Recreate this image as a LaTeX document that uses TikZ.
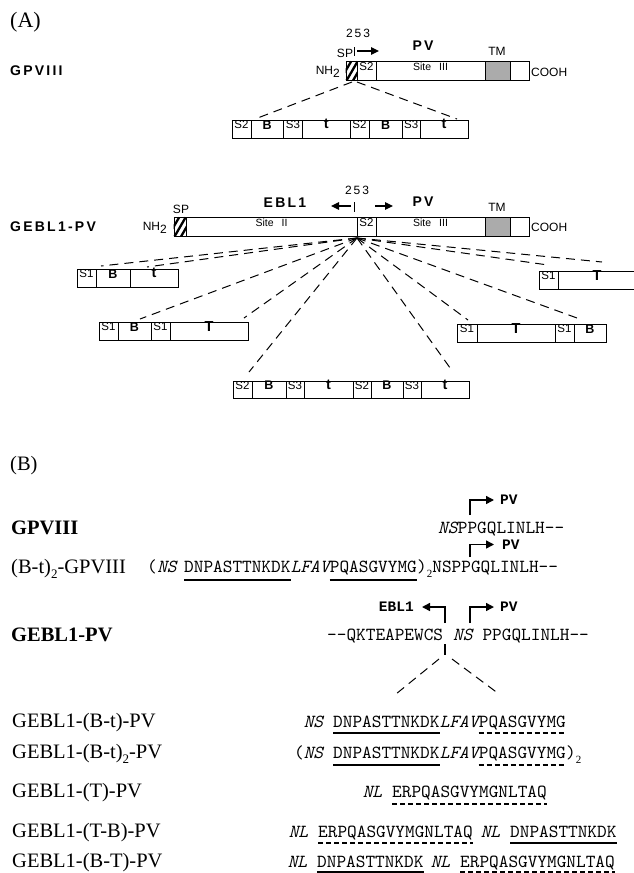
\documentclass[tikz,border=0pt]{standalone}
\usepackage{fontspec}
\setmainfont{Liberation Serif}
\setsansfont{Liberation Sans}
\setmonofont{lmmono10-regular.otf}[ItalicFont=lmmono10-italic.otf]
\newfontfamily\trackedsans{Liberation Sans}[LetterSpace=16]
\newfontfamily\labmono{Liberation Mono}
\usetikzlibrary{fit,arrows.meta}

% a rectangular cell spanning x1..x2, y1..y2
\newcommand\cellbox[7][]{\node[cell,#1,fit={(#3,#5)(#4,#6)}] (#2) {#7};}
% diagonal hatching inside a cell
\newcommand\hatchcell[1]{%
  \begin{scope}
    \clip (#1.south west) rectangle (#1.north east);
    \foreach \o in {-12,-5.5,1,7.5}
      \draw[line width=2.3pt] ([xshift=\o pt]#1.south west) -- ++(11,-19);
  \end{scope}}
\newcommand\cellB{{\bfseries\fontsize{12.5}{14}\selectfont B}}
\newcommand\cellt{{\bfseries\fontsize{14.5}{15}\selectfont t}}
\newcommand\cellT{{\bfseries\fontsize{14.5}{15}\selectfont T\hspace{18pt}}}
\newcommand\sitefont{\fontsize{10.5}{12}\selectfont}
\newcommand\lowsub[1]{\raisebox{-5pt}{\fontsize{13}{13}\selectfont #1}}
\newcommand\seqsub[1]{\raisebox{-5pt}{\rmfamily\fontsize{11}{11}\selectfont #1}}

\tikzset{
  cell/.style={draw=black, line width=0.8pt, inner sep=0pt,
    font=\sffamily\fontsize{11.5}{13}\selectfont},
  tmcell/.style={fill=black!33},
  rowname/.style={anchor=west, inner sep=0pt,
    font=\trackedsans\bfseries\fontsize{14}{16}\selectfont},
  tag/.style={inner sep=0pt, font=\sffamily\fontsize{12}{14}\selectfont},
  tagsp/.style={inner sep=0pt, font=\trackedsans\fontsize{12}{14}\selectfont},
  tagbold/.style={inner sep=0pt, font=\trackedsans\bfseries\fontsize{14}{16}\selectfont},
  pointer/.style={line width=1.1pt, -{Triangle[length=8pt,width=7.5pt]}},
  fanline/.style={line width=1pt, dash pattern=on 9pt off 6pt},
  caption/.style={anchor=base west, inner sep=0pt, font=\fontsize{20.5}{24}\selectfont},
  boldcaption/.style={caption, font=\bfseries\fontsize{20.5}{24}\selectfont},
  seq/.style={anchor=base west, inner sep=0pt, font=\ttfamily\fontsize{18.4}{20}\selectfont},
  seqlead/.style={seq, anchor=base east},
  turn/.style={line width=1.5pt, -{Triangle[length=8pt,width=8pt]}},
  turnlabel/.style={inner sep=0pt, font=\labmono\bfseries\fontsize{14.5}{16}\selectfont},
  solidul/.style={line width=1.2pt},
  dashul/.style={line width=1.2pt, dash pattern=on 5pt off 3pt},
}

\begin{document}
\begin{tikzpicture}[x=1pt,y=-1pt]
\useasboundingbox (0,0) rectangle (634,873);

% ================= part (A) =================
\node[caption, font=\fontsize{22}{26}\selectfont] (capA) at (10,27) {(A)};

% ---- GPVIII construct
\node[rowname] (gpName) at (10,71) {GPVIII};
\cellbox{gSP}{346}{357}{61}{80}{}
\hatchcell{gSP}
\cellbox{gS2}{357}{376}{61}{80}{S2}
\cellbox{gSite}{376}{485}{61}{80}{\sitefont Site\hspace{8pt}III}
\cellbox[tmcell]{gTM}{485}{510}{61}{80}{}
\cellbox{gEnd}{510}{529}{61}{80}{}
\node[tag, anchor=east] (gNH) at (340,72) {NH\raisebox{-3pt}{2}};
\node[tag, anchor=west] (gCOOH) at (531,72) {COOH};
\node[tag] (gSPl) at (345,53) {SP};
\node[tagsp] (gNum) at (358,33) {253};
\node[tagbold] (gPV) at (423,46) {PV};
\node[tag] (gTMl) at (497,51) {TM};
\coordinate (gTickTop) at (354,47);
\coordinate (gTickBot) at (354,56);
\draw[line width=0.9pt] (gTickTop) -- (gTickBot);
\coordinate (gArrS) at (357,51);
\coordinate (gArrE) at (379,51);
\draw[pointer] (gArrS) -- (gArrE);

% insert below GPVIII
\cellbox{gi1}{232}{251}{120}{138}{S2}
\cellbox{gi2}{251}{283.5}{120}{138}{\cellB}
\cellbox{gi3}{283.5}{302.5}{120}{138}{S3}
\cellbox{gi4}{302.5}{350}{120}{138}{\cellt}
\cellbox{gi5}{350}{369}{120}{138}{S2}
\cellbox{gi6}{369}{402.5}{120}{138}{\cellB}
\cellbox{gi7}{402.5}{420}{120}{138}{S3}
\cellbox{gi8}{420}{468}{120}{138}{\cellt}
\coordinate (gForkL) at (352,82);
\coordinate (gForkR) at (357,82);
\coordinate (giL) at (255,119);
\coordinate (giR) at (457,119);
\draw[fanline] (gForkL) -- (giL);
\draw[fanline] (gForkR) -- (giR);

% ---- GEBL1-PV construct
\node[rowname] (geName) at (10,227) {GEBL1-PV};
\cellbox{eSP}{174}{186}{217}{236}{}
\hatchcell{eSP}
\cellbox{eSite2}{186}{357}{217}{236}{\sitefont Site\hspace{8pt}II}
\cellbox{eS2}{357}{376}{217}{236}{S2}
\cellbox{eSite3}{376}{485}{217}{236}{\sitefont Site\hspace{8pt}III}
\cellbox[tmcell]{eTM}{485}{510}{217}{236}{}
\cellbox{eEnd}{510}{529}{217}{236}{}
\node[tag, anchor=east] (eNH) at (167,228) {NH\raisebox{-3pt}{2}};
\node[tag, anchor=west] (eCOOH) at (531,227) {COOH};
\node[tag] (eSPl) at (181,209) {SP};
\node[tagbold] (eEBL) at (285,203) {EBL1};
\node[tagsp] (eNum) at (357,190) {253};
\node[tagbold] (ePV) at (423,202) {PV};
\node[tag] (eTMl) at (497,207) {TM};
\coordinate (eTickTop) at (354,202);
\coordinate (eTickBot) at (354,212);
\draw[line width=0.9pt] (eTickTop) -- (eTickBot);
\coordinate (eLArrS) at (351,206);
\coordinate (eLArrE) at (331,206);
\draw[pointer] (eLArrS) -- (eLArrE);
\coordinate (eRArrS) at (375,206);
\coordinate (eRArrE) at (393,206);
\draw[pointer] (eRArrS) -- (eRArrE);

% inserts around GEBL1-PV
\cellbox{lt1}{77}{96}{269}{287}{S1}
\cellbox{lt2}{96}{130}{269}{287}{\cellB}
\cellbox{lt3}{130}{178}{269}{287}{\cellt}

\cellbox{lm1}{99}{118}{322}{340}{S1}
\cellbox{lm2}{118}{151}{322}{340}{\cellB}
\cellbox{lm3}{151}{170}{322}{340}{S1}
\cellbox{lm4}{170}{248}{322}{340}{\cellT}

\cellbox{bt1}{233}{252}{381}{398}{S2}
\cellbox{bt2}{252}{286}{381}{398}{\cellB}
\cellbox{bt3}{286}{304}{381}{398}{S3}
\cellbox{bt4}{304}{353}{381}{398}{\cellt}
\cellbox{bt5}{353}{371}{381}{398}{S2}
\cellbox{bt6}{371}{403}{381}{398}{\cellB}
\cellbox{bt7}{403}{421}{381}{398}{S3}
\cellbox{bt8}{421}{469}{381}{398}{\cellt}

\cellbox{rm1}{457}{477}{324}{342}{S1}
\cellbox{rm2}{477}{555}{324}{342}{\cellT}
\cellbox{rm3}{555}{574}{324}{342}{S1}
\cellbox{rm4}{574}{606}{324}{342}{\cellB}

\cellbox{rt1}{539}{558}{271}{289}{S1}
\cellbox{rt2}{558}{636}{271}{289}{\cellT}

% dashed fan from the insertion point
\coordinate (fan) at (357,238);
\coordinate (ltA) at (101,266);
\coordinate (ltB) at (147,267);
\coordinate (lmA) at (140,319);
\coordinate (lmB) at (244,318);
\coordinate (btA) at (249,372);
\coordinate (btB) at (453,372);
\coordinate (rmA) at (468,320);
\coordinate (rmB) at (577,318);
\coordinate (rtA) at (548,265);
\coordinate (rtB) at (602,262);
\foreach \e in {ltA,ltB,lmA,lmB,btA,btB,rmA,rmB,rtA,rtB}
  \draw[fanline] (fan) -- (\e);

% ================= part (B) =================
\node[caption] (capB) at (10,470) {(B)};
\node[boldcaption] (nGP) at (11,534) {GPVIII};
\node[caption] (nBtGP) at (11,573) {(B-t)\lowsub{2}-GPVIII};
\node[boldcaption] (nGE) at (11,641) {GEBL1-PV};
\node[caption] (r1) at (12,727) {GEBL1-(B-t)-PV};
\node[caption] (r2) at (12,758) {GEBL1-(B-t)\lowsub{2}-PV};
\node[caption] (r3) at (12,797) {GEBL1-(T)-PV};
\node[caption] (r4) at (12,837) {GEBL1-(T-B)-PV};
\node[caption] (r5) at (12,867) {GEBL1-(B-T)-PV};

% GPVIII junction
\node[seq] (s0a) at (438,533) {\itshape NS};
\node[seq] (s0b) at (s0a.base east) {PPGQLINLH--};
\node[turnlabel, anchor=west] (pv0) at (500,500) {PV};
\coordinate (pv0foot) at (470,515);
\draw[turn] (pv0foot) |- ([xshift=-6pt]pv0.west);

% (B-t)2-GPVIII junction
\node[seq] (s1a) at (147,572) {(};
\node[seq] (s1b) at (s1a.base east) {\itshape NS};
\node[seq] (s1c) at (184,572) {DNPASTTNKDK};
\node[seq] (s1d) at (s1c.base east) {\itshape LFAV};
\node[seq] (s1e) at (s1d.base east) {PQASGVYMG};
\node[seq] (s1f) at (s1e.base east) {)\seqsub{2}NSPPGQLINLH--};
\draw[solidul] ([yshift=-8pt]s1c.base west) -- ([yshift=-8pt]s1c.base east);
\draw[solidul] ([yshift=-8pt]s1e.base west) -- ([yshift=-8pt]s1e.base east);
\node[turnlabel, anchor=west] (pv1) at (502,544.5) {PV};
\coordinate (pv1foot) at (470,557);
\draw[turn] (pv1foot) |- ([xshift=-8pt]pv1.west);

% GEBL1-PV junction
\node[seq] (s2a) at (327,640) {--QKTEAPEWCS};
\node[seq] (s2b) at ([xshift=9.66pt]s2a.base east) {\itshape NS};
\node[seq] (s2c) at ([xshift=9.66pt]s2b.base east) {PPGQLINLH--};
\node[turnlabel, anchor=east] (ebl) at (414,607) {EBL1};
\node[turnlabel, anchor=west] (pv2) at (500,607) {PV};
\coordinate (eblfoot) at (445,623);
\coordinate (pv2foot) at (470,623);
\draw[turn] (eblfoot) |- ([xshift=8pt]ebl.east);
\draw[turn] (pv2foot) |- ([xshift=-6pt]pv2.west);
\coordinate (stemTop) at (445,644);
\coordinate (stemBot) at (445,655);
\draw[line width=1.3pt] (stemTop) -- (stemBot);
\coordinate (vL0) at (439,659);
\coordinate (vL1) at (396,694);
\coordinate (vR0) at (452,659);
\coordinate (vR1) at (499,694);
\draw[fanline] (vL0) -- (vL1);
\draw[fanline] (vR0) -- (vR1);

% inserted sequences
\node[seq] (t1b) at (333,727) {DNPASTTNKDK};
\node[seqlead] (t1a) at ([xshift=-9.66pt]t1b.base west) {\itshape NS};
\node[seq] (t1c) at (t1b.base east) {\itshape LFAV};
\node[seq] (t1d) at (t1c.base east) {PQASGVYMG};
\draw[solidul] ([yshift=-6pt]t1b.base west) -- ([yshift=-6pt]t1b.base east);
\draw[dashul] ([yshift=-6pt]t1d.base west) -- ([yshift=-6pt]t1d.base east);

\node[seq] (t2b) at (333,758) {DNPASTTNKDK};
\node[seqlead] (t2a) at ([xshift=-9.66pt]t2b.base west) {(\itshape NS};
\node[seq] (t2c) at (t2b.base east) {\itshape LFAV};
\node[seq] (t2d) at (t2c.base east) {PQASGVYMG};
\node[seq] (t2e) at (t2d.base east) {)\seqsub{2}};
\draw[solidul] ([yshift=-7pt]t2b.base west) -- ([yshift=-7pt]t2b.base east);
\draw[dashul] ([yshift=-7pt]t2d.base west) -- ([yshift=-7pt]t2d.base east);

\node[seq] (t3b) at (392,797) {ERPQASGVYMGNLTAQ};
\node[seqlead] (t3a) at ([xshift=-9.66pt]t3b.base west) {\itshape NL};
\draw[dashul] ([yshift=-7pt]t3b.base west) -- ([yshift=-7pt]t3b.base east);

\node[seq] (t4b) at (318,837) {ERPQASGVYMGNLTAQ};
\node[seqlead] (t4a) at ([xshift=-9.66pt]t4b.base west) {\itshape NL};
\node[seq] (t4d) at (510,837) {DNPASTTNKDK};
\node[seqlead] (t4c) at ([xshift=-9.66pt]t4d.base west) {\itshape NL};
\draw[dashul] ([yshift=-6pt]t4b.base west) -- ([yshift=-6pt]t4b.base east);
\draw[solidul] ([yshift=-6pt]t4d.base west) -- ([yshift=-6pt]t4d.base east);

\node[seq] (t5b) at (317,867) {DNPASTTNKDK};
\node[seqlead] (t5a) at ([xshift=-9.66pt]t5b.base west) {\itshape NL};
\node[seq] (t5d) at (460,867) {ERPQASGVYMGNLTAQ};
\node[seqlead] (t5c) at ([xshift=-9.66pt]t5d.base west) {\itshape NL};
\draw[solidul, line width=1.6pt] ([yshift=-5pt]t5b.base west) -- ([yshift=-5pt]t5b.base east);
\draw[dashul] ([yshift=-5pt]t5d.base west) -- ([yshift=-5pt]t5d.base east);

\end{tikzpicture}
\end{document}
